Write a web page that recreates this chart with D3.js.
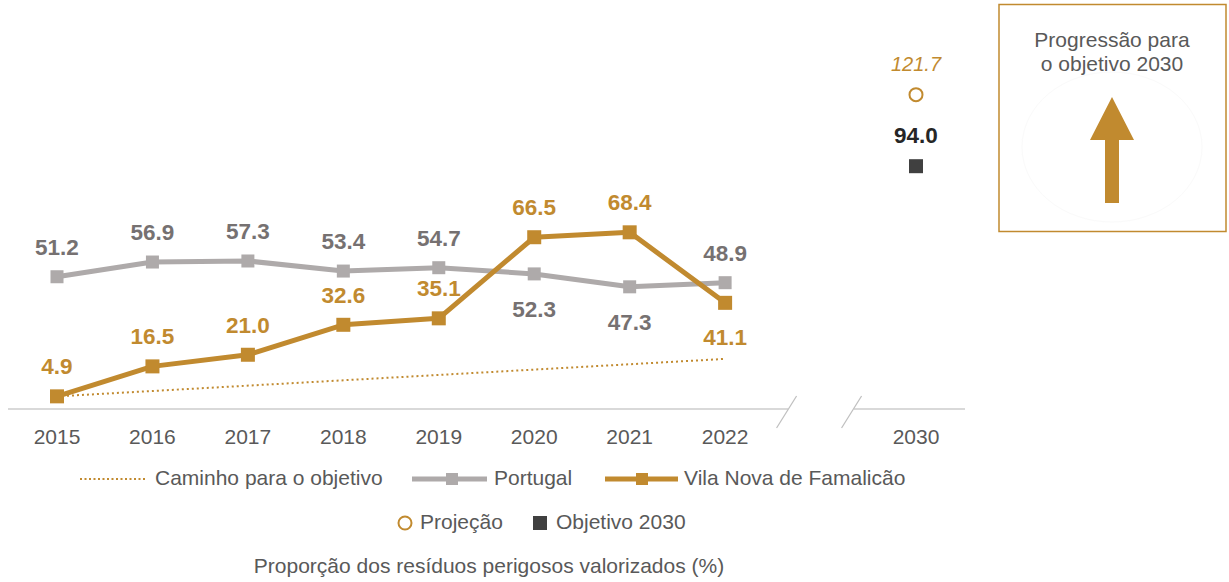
<html>
<head>
<meta charset="utf-8">
<style>
  body { margin:0; background:#fff; }
  text { font-family: "Liberation Sans", Arial, Helvetica, sans-serif; }
  .tick { fill:#595959; font-size:21px; text-anchor:middle; }
  .lbl { font-size:22.5px; font-weight:bold; text-anchor:middle; }
  .leg { fill:#595959; font-size:21px; dominant-baseline:middle; }
</style>
<script src="https://d3js.org/d3.v7.min.js"></script>
</head>
<body>
<script>
const years = ['2015','2016','2017','2018','2019','2020','2021','2022']
const portugal = [51.2, 56.9, 57.3, 53.4, 54.7, 52.3, 47.3, 48.9]
const famalicao = [4.9, 16.5, 21.0, 32.6, 35.1, 66.5, 68.4, 41.1]
const pathYears = ['2015','2022']
const pathValues = [4.9, 19.4]
const targetYear = '2030'
const projection = 121.7
const objective = 94.0

const gold = '#C18A2F', grey = '#AEAAAA', greyText = '#767171'

const svg = d3.select('body').append('svg').attr('width',1229).attr('height',582)

const x = d3.scalePoint().domain([...years,'gap',targetYear]).range([57,916])
const y = d3.scaleLinear().domain([0,130]).range([409,73.2])

// baseline with break
const base = svg.append('g').attr('stroke','#D9D9D9').attr('stroke-width',2)
base.append('line').attr('x1',8).attr('x2',788).attr('y1',y(0)).attr('y2',y(0))
base.append('line').attr('x1',854).attr('x2',965).attr('y1',y(0)).attr('y2',y(0))
;[x('gap')-44, x('gap')+21].forEach(bx => {
  base.append('line').attr('x1',bx).attr('y1',y(0)+19).attr('x2',bx+20).attr('y2',y(0)-13)
    .attr('stroke','#BFBFBF').attr('stroke-width',1.2)
})

svg.selectAll('.tick').data([...years,targetYear]).enter().append('text')
  .attr('class','tick').attr('x',d => x(d)).attr('y',444).text(d => d)

// path to objective
svg.append('path').datum(pathYears.map((d,i) => [d,pathValues[i]]))
  .attr('fill','none').attr('stroke',gold).attr('stroke-width',2).attr('stroke-dasharray','2,3')
  .attr('d',d3.line().x(d => x(d[0])).y(d => y(d[1])))

const line = d3.line().x((d,i) => x(years[i])).y(d => y(d))

function series(vals,color,w,sz){
  svg.append('path').datum(vals).attr('fill','none').attr('stroke',color)
    .attr('stroke-width',w).attr('stroke-linejoin','round').attr('d',line)
  svg.append('g').selectAll('rect').data(vals).enter().append('rect')
    .attr('x',(d,i) => x(years[i])-sz/2).attr('y',d => y(d)-sz/2)
    .attr('width',sz).attr('height',sz).attr('fill',color)
}
series(portugal,grey,5,13)
series(famalicao,gold,5,14)

// labels
svg.append('g').selectAll('text').data(portugal).enter().append('text')
  .attr('class','lbl').attr('fill',greyText)
  .attr('x',(d,i) => x(years[i]))
  .attr('y',(d,i) => famalicao[i] > d ? y(d)+43 : y(d)-22)
  .text(d => d.toFixed(1))
svg.append('g').selectAll('text').data(famalicao).enter().append('text')
  .attr('class','lbl').attr('fill',gold)
  .attr('x',(d,i) => x(years[i]))
  .attr('y',(d,i) => (portugal[i]-d > 0 && portugal[i]-d < 15) ? y(d)+42 : y(d)-22)
  .text(d => d.toFixed(1))

// 2030 projection & objective
svg.append('circle').attr('cx',x(targetYear)).attr('cy',y(projection)).attr('r',6.5)
  .attr('fill','none').attr('stroke',gold).attr('stroke-width',2)
svg.append('text').attr('x',x(targetYear)).attr('y',y(projection)-24)
  .attr('text-anchor','middle').attr('font-size',20).attr('font-style','italic')
  .attr('fill',gold).text(projection.toFixed(1))
svg.append('rect').attr('x',x(targetYear)-7).attr('y',y(objective)-7).attr('width',14).attr('height',14)
  .attr('fill','#404040')
svg.append('text').attr('class','lbl').attr('fill','#262626')
  .attr('x',x(targetYear)).attr('y',y(objective)-23).attr('font-size',20).text(objective.toFixed(1))

// progress box
const box = svg.append('g')
box.append('rect').attr('x',999).attr('y',4.5).attr('width',227).attr('height',227)
  .attr('fill','#fff').attr('stroke',gold).attr('stroke-width',1.5)
box.append('text').attr('x',1112).attr('y',47).attr('text-anchor','middle').attr('font-size',21)
  .attr('fill','#595959').text('Progressão para')
box.append('text').attr('x',1112).attr('y',71).attr('text-anchor','middle').attr('font-size',21)
  .attr('fill','#595959').text('o objetivo 2030')
box.append('ellipse').attr('cx',1112).attr('cy',147).attr('rx',90).attr('ry',75).attr('fill','none')
  .attr('stroke','#FAFAFA').attr('stroke-width',1)
box.append('path').attr('fill',gold)
  .attr('d','M1112,97 L1134,140 L1119,140 L1119,203 L1105,203 L1105,140 L1090,140 Z')

// legend
const l1 = 479
svg.append('line').attr('x1',80).attr('x2',145).attr('y1',l1).attr('y2',l1)
  .attr('stroke',gold).attr('stroke-width',2).attr('stroke-dasharray','2,2.5')
svg.append('text').attr('class','leg').attr('x',155).attr('y',l1).text('Caminho para o objetivo')
svg.append('line').attr('x1',412).attr('x2',487).attr('y1',l1).attr('y2',l1).attr('stroke',grey).attr('stroke-width',5)
svg.append('rect').attr('x',446).attr('y',l1-6).attr('width',12).attr('height',12).attr('fill',grey)
svg.append('text').attr('class','leg').attr('x',494).attr('y',l1).text('Portugal')
svg.append('line').attr('x1',605).attr('x2',678).attr('y1',l1).attr('y2',l1).attr('stroke',gold).attr('stroke-width',5)
svg.append('rect').attr('x',636).attr('y',l1-6).attr('width',12).attr('height',12).attr('fill',gold)
svg.append('text').attr('class','leg').attr('x',684).attr('y',l1).text('Vila Nova de Famalicão')

const l2 = 523
svg.append('circle').attr('cx',405).attr('cy',l2).attr('r',6.5).attr('fill','none').attr('stroke',gold).attr('stroke-width',2)
svg.append('text').attr('class','leg').attr('x',420).attr('y',l2).text('Projeção')
svg.append('rect').attr('x',533).attr('y',l2-7).attr('width',14).attr('height',14).attr('fill','#404040')
svg.append('text').attr('class','leg').attr('x',556).attr('y',l2).text('Objetivo 2030')

svg.append('text').attr('class','leg').attr('x',489).attr('y',567).attr('text-anchor','middle')
  .text('Proporção dos resíduos perigosos valorizados (%)')
</script>
</body>
</html>
